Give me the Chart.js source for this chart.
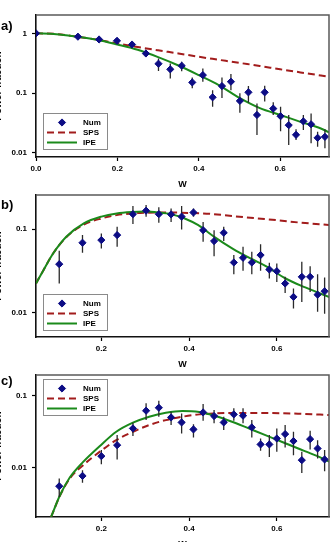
<!DOCTYPE html>
<html><head><meta charset="utf-8">
<script src="https://cdn.jsdelivr.net/npm/chart.js@4.4.1/dist/chart.umd.min.js"></script>
<style>
html,body{margin:0;padding:0;background:#fff;width:334px;height:542px;overflow:hidden;position:relative;}
canvas{position:absolute;left:-8px;}
.lab{position:absolute;left:1px;font:bold 13px "Liberation Sans",Arial,sans-serif;line-height:14px;color:#000;}
</style></head><body>
<canvas id="ca" width="342" height="190" style="top:0px"></canvas>
<canvas id="cb" width="342" height="190" style="top:180px"></canvas>
<canvas id="cc" width="342" height="190" style="top:360px"></canvas>
<div class="lab" style="top:19px">a)</div>
<div class="lab" style="top:198px">b)</div>
<div class="lab" style="top:374px">c)</div>
<script>
// ---------- Panel a ----------
const numXA = [0,0.103,0.155,0.199,0.236,0.270,0.301,0.330,0.358,0.384,0.410,0.434,0.457,0.479,0.501,0.522,0.543,0.562,0.583,0.601,0.621,0.639,0.657,0.676,0.692,0.710];
const numYA = [1,0.88,0.79,0.75,0.65,0.46,0.31,0.25,0.287,0.151,0.20,0.085,0.131,0.155,0.074,0.103,0.043,0.103,0.055,0.041,0.029,0.020,0.0336,0.030,0.0178,0.0185];
const errLoA = [0.95,0.81,0.71,0.68,0.59,0.41,0.234,0.176,0.233,0.12,0.155,0.059,0.083,0.112,0.047,0.069,0.0198,0.072,0.043,0.023,0.0135,0.0163,0.024,0.0144,0.0126,0.0119];
const errHiA = [1.05,0.95,0.88,0.83,0.72,0.53,0.38,0.314,0.334,0.183,0.259,0.112,0.183,0.208,0.099,0.131,0.067,0.133,0.070,0.059,0.043,0.0247,0.043,0.0457,0.0225,0.0247];
const ipeXA = [0,0.05,0.1,0.15,0.2,0.25,0.3,0.35,0.4,0.45,0.5,0.55,0.6,0.65,0.7,0.72];
const ipeYA = [1,0.97,0.88,0.78,0.65,0.53,0.40,0.29,0.20,0.135,0.083,0.056,0.043,0.033,0.0255,0.022];
const spsXA = [0,0.05,0.1,0.15,0.2,0.25,0.3,0.35,0.4,0.45,0.5,0.55,0.6,0.65,0.7,0.72];
const spsYA = [1,0.975,0.88,0.785,0.675,0.59,0.52,0.46,0.405,0.36,0.32,0.285,0.25,0.222,0.197,0.188];
const xTicksA = [0,0.2,0.4,0.6];
const xTickLabelsA = ['0.0','0.2','0.4','0.6'];
const yTicksA = [0.01,0.1,1];
const yTickLabelsA = ['0.01','0.1','1'];

// ---------- Panel b ----------
const numXB = [0.104,0.157,0.2,0.236,0.272,0.302,0.331,0.359,0.383,0.41,0.432,0.457,0.479,0.502,0.523,0.543,0.563,0.583,0.6,0.619,0.638,0.657,0.676,0.693,0.709];
const numYB = [0.038,0.0686,0.0738,0.0847,0.151,0.166,0.151,0.150,0.141,0.158,0.097,0.0718,0.0904,0.0398,0.0453,0.0398,0.0488,0.0328,0.0313,0.0223,0.0154,0.0268,0.0268,0.0164,0.018];
const errLoB = [0.0223,0.052,0.0586,0.0614,0.115,0.141,0.119,0.122,0.099,0.141,0.0705,0.0474,0.0718,0.0288,0.0316,0.0288,0.0316,0.0256,0.0233,0.0172,0.0112,0.0134,0.0177,0.0102,0.0097];
const errHiB = [0.055,0.0847,0.0887,0.1066,0.189,0.194,0.182,0.177,0.189,0.177,0.122,0.097,0.107,0.0488,0.0614,0.0535,0.066,0.0394,0.0386,0.0268,0.0194,0.0406,0.036,0.0288,0.0263];
const ipeXB = [0.051,0.068,0.09,0.12,0.16,0.2,0.235,0.27,0.3,0.33,0.36,0.39,0.42,0.46,0.5,0.54,0.575,0.62,0.665,0.72];
const ipeYB = [0.0223,0.0322,0.051,0.081,0.117,0.141,0.154,0.160,0.162,0.158,0.150,0.134,0.112,0.079,0.058,0.0445,0.036,0.0256,0.020,0.0153];
const spsXB = [0.051,0.068,0.09,0.12,0.16,0.2,0.235,0.27,0.3,0.35,0.4,0.45,0.5,0.55,0.6,0.65,0.72];
const spsYB = [0.0223,0.0322,0.051,0.08,0.113,0.134,0.147,0.154,0.157,0.158,0.156,0.152,0.143,0.135,0.128,0.120,0.112];
const xTicksB = [0.2,0.4,0.6];
const xTickLabelsB = ['0.2','0.4','0.6'];
const yTicksB = [0.01,0.1];
const yTickLabelsB = ['0.01','0.1'];

// ---------- Panel c ----------
const numXC = [0.104,0.157,0.2,0.236,0.272,0.302,0.331,0.359,0.383,0.41,0.432,0.457,0.479,0.502,0.523,0.543,0.563,0.583,0.6,0.619,0.638,0.657,0.676,0.693,0.709];
const numYC = [0.00555,0.00773,0.01455,0.0207,0.0354,0.0624,0.0687,0.0503,0.0429,0.0343,0.0591,0.0526,0.0429,0.0555,0.0532,0.0366,0.0212,0.0212,0.0256,0.0295,0.0236,0.0128,0.0251,0.0186,0.0131];
const errLoC = [0.00394,0.00618,0.01124,0.0131,0.0277,0.0462,0.0515,0.0394,0.0301,0.0265,0.0453,0.0416,0.0336,0.0453,0.0416,0.0265,0.0173,0.0142,0.0167,0.0192,0.015,0.0085,0.018,0.0135,0.009];
const errHiC = [0.0071,0.00927,0.01766,0.0286,0.0425,0.079,0.086,0.0604,0.0573,0.0406,0.0773,0.0637,0.0515,0.0673,0.0673,0.0462,0.0256,0.0286,0.0354,0.0394,0.0318,0.0167,0.0328,0.0243,0.0177];
const ipeXC = [0.0853,0.1057,0.128,0.1585,0.196,0.234,0.272,0.309,0.347,0.385,0.423,0.46,0.498,0.536,0.574,0.611,0.649,0.687,0.721];
const ipeYC = [0.00207,0.00416,0.00733,0.0121,0.020,0.0318,0.0425,0.0515,0.0585,0.0618,0.0598,0.0526,0.0438,0.0354,0.0286,0.0231,0.0186,0.015,0.0121];
const spsXC = [0.0853,0.1057,0.128,0.1585,0.196,0.234,0.272,0.309,0.347,0.385,0.423,0.46,0.498,0.574,0.649,0.721];
const spsYC = [0.00207,0.0041,0.0071,0.0109,0.0167,0.0243,0.0318,0.0394,0.0462,0.0515,0.0555,0.0573,0.058,0.058,0.0567,0.0543];
const xTicksC = [0.2,0.4,0.6];
const xTickLabelsC = ['0.2','0.4','0.6'];
const yTicksC = [0.01,0.1];
const yTickLabelsC = ['0.01','0.1'];

const legendLabels = ['Num','SPS','IPE'];
const xTitle = 'W';
const yTitle = 'Power fraction';

const NAVY = '#0c0c85', RED = '#a21c1c', GREEN = '#1b8a1b', ERR = '#2a2a2a';
const FONT = '"Liberation Sans", Arial, sans-serif';

const zip = (xs, ys) => xs.map((x, i) => ({x, y: ys[i]}));
const errPts = (xs, lo, hi) => {
  const out = [];
  xs.forEach((x, i) => { out.push({x, y: lo[i]}, {x, y: hi[i]}, {x, y: null}); });
  return out;
};

const framePlugin = {
  id: 'frame',
  afterDatasetsDraw(chart) {
    const {ctx, chartArea: a} = chart;
    ctx.save();
    ctx.strokeStyle = '#5a5a5a';
    ctx.lineWidth = 1.5;
    ctx.beginPath();
    ctx.moveTo(a.left, a.top);
    ctx.lineTo(a.right, a.top);
    ctx.lineTo(a.right, a.bottom);
    ctx.stroke();
    ctx.restore();
  }
};

const boxLegend = {
  id: 'boxLegend',
  afterDatasetsDraw(chart, args, opts) {
    const {ctx, chartArea: a} = chart;
    const L = Math.round(a.left + opts.left), T = Math.round(a.top + opts.top), W = opts.width, H = opts.height;
    ctx.save();
    ctx.fillStyle = '#fff';
    ctx.fillRect(L, T, W, H);
    ctx.strokeStyle = '#8a8a8a';
    ctx.lineWidth = 1;
    ctx.strokeRect(L + 0.5, T + 0.5, W, H);
    ctx.font = 'bold 8px ' + FONT;
    ctx.textBaseline = 'middle';
    ctx.textAlign = 'left';
    legendLabels.forEach((lab, i) => {
      const ds = chart.data.datasets.find(d => d.label === lab);
      const y = T + 9.5 + i * 10;
      if (lab === 'Num') {
        ctx.fillStyle = ds.pointBackgroundColor;
        ctx.strokeStyle = ds.pointBorderColor;
        Chart.helpers.drawPoint(ctx, {pointStyle: 'rectRot', radius: 3.6, rotation: 0, borderWidth: 1}, L + 19, y);
      } else {
        ctx.strokeStyle = ds.borderColor;
        ctx.lineWidth = ds.borderWidth;
        ctx.setLineDash(ds.borderDash || []);
        ctx.beginPath();
        ctx.moveTo(L + 4, y);
        ctx.lineTo(L + 34, y);
        ctx.stroke();
        ctx.setLineDash([]);
      }
      ctx.fillStyle = '#000';
      ctx.fillText(lab, L + 40, y + 0.5);
    });
    ctx.restore();
  }
};

function makeChart(id, p) {
  new Chart(document.getElementById(id), {
    type: 'line',
    data: {
      datasets: [
        {label: 'Num', data: zip(p.numX, p.numY), showLine: false, pointStyle: 'rectRot',
         pointRadius: 3.6, pointBorderWidth: 1, pointBackgroundColor: NAVY, pointBorderColor: NAVY, order: 0},
        {label: '', data: errPts(p.numX, p.lo, p.hi), borderColor: ERR, borderWidth: 1.3,
         pointRadius: 0, spanGaps: false, order: 1},
        {label: 'IPE', data: zip(p.ipeX, p.ipeY), borderColor: GREEN, borderWidth: 2,
         pointRadius: 0, cubicInterpolationMode: 'monotone', order: 2},
        {label: 'SPS', data: zip(p.spsX, p.spsY), borderColor: RED, borderWidth: 2, borderDash: [7, 4],
         pointRadius: 0, cubicInterpolationMode: 'monotone', order: 3}
      ]
    },
    options: {
      responsive: false, animation: false, devicePixelRatio: 1,
      layout: {padding: {top: 15, right: 3, bottom: 0, left: 0}},
      plugins: {legend: {display: false}, tooltip: {enabled: false},
                boxLegend: {left: 7, top: p.legTop, width: 64, height: 36}},
      scales: {
        x: {
          type: 'linear', min: p.xmin, max: p.xmax,
          afterFit: s => { s.height = 33; },
          afterBuildTicks: s => { s.ticks = p.xt.map(v => ({value: v})); },
          ticks: {callback: (v, i) => p.xtl[i], font: {family: FONT, size: 8, weight: 'bold'},
                  color: '#000', padding: 3, maxRotation: 0, autoSkip: false},
          grid: {drawOnChartArea: false, drawTicks: true, tickLength: 4, tickColor: '#000', tickWidth: 1.2},
          border: {display: true, color: '#111', width: 1.6},
          title: {display: true, text: xTitle, color: '#000', font: {family: FONT, size: 9, weight: 'bold'},
                  padding: {top: 0, bottom: 0.3}}
        },
        y: {
          type: 'logarithmic', min: p.ymin, max: p.ymax,
          afterFit: s => { s.width = 44; },
          afterBuildTicks: s => { s.ticks = p.yt.map(v => ({value: v})); },
          ticks: {callback: (v, i) => p.ytl[i], font: {family: FONT, size: 8, weight: 'bold'},
                  color: '#000', padding: 5, autoSkip: false},
          grid: {drawOnChartArea: false, drawTicks: true, tickLength: 4, tickColor: '#000', tickWidth: 1.2},
          border: {display: true, color: '#111', width: 1.6},
          title: {display: true, text: yTitle, color: '#000', font: {family: FONT, size: 10, weight: 'bold'},
                  padding: {top: 0.7, bottom: 0}}
        }
      }
    },
    plugins: [framePlugin, boxLegend]
  });
}

makeChart('ca', {numX: numXA, numY: numYA, lo: errLoA, hi: errHiA, ipeX: ipeXA, ipeY: ipeYA, spsX: spsXA, spsY: spsYA,
  xmin: 0, xmax: 0.72, ymin: 0.0085, ymax: 2.03, xt: xTicksA, xtl: xTickLabelsA, yt: yTicksA, ytl: yTickLabelsA, legTop: 98});
makeChart('cb', {numX: numXB, numY: numYB, lo: errLoB, hi: errHiB, ipeX: ipeXB, ipeY: ipeYB, spsX: spsXB, spsY: spsYB,
  xmin: 0.051, xmax: 0.719, ymin: 0.0051, ymax: 0.256, xt: xTicksB, xtl: xTickLabelsB, yt: yTicksB, ytl: yTickLabelsB, legTop: 99});
makeChart('cc', {numX: numXC, numY: numYC, lo: errLoC, hi: errHiC, ipeX: ipeXC, ipeY: ipeYC, spsX: spsXC, spsY: spsYC,
  xmin: 0.051, xmax: 0.719, ymin: 0.00207, ymax: 0.196, xt: xTicksC, xtl: xTickLabelsC, yt: yTicksC, ytl: yTickLabelsC, legTop: 4});
</script>
</body></html>
